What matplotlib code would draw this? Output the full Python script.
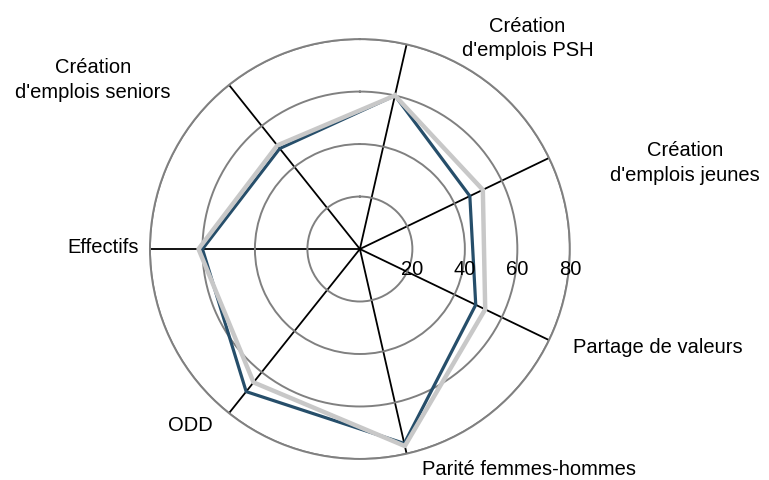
import numpy as np
import matplotlib
matplotlib.use('Agg')
import matplotlib.pyplot as plt

plt.rcParams['font.family'] = ['Liberation Sans', 'DejaVu Sans']

# categories, clockwise starting just right of the top
categories = ["Création\nd'emplois PSH", "Création\nd'emplois jeunes", "Partage de valeurs",
              "Parité femmes-hommes", "ODD", "Effectifs", "Création\nd'emplois seniors"]
serie_1 = [60, 46.5, 49, 76, 69.5, 60, 49]
serie_2 = [60, 52, 53, 77, 65, 61.5, 50.5]
r_ticks = [20, 40, 60, 80]

n = len(categories)
angles = np.pi / 14 + np.arange(n) * 2 * np.pi / n
# label offsets from the axis tip (pixels)
offsets = [(121, 7), (136, -4), (109, -6), (122, -15), (-39, -11), (-47, 3), (-136, 6)]

fig = plt.figure(figsize=(7.69, 4.81), dpi=100)
ax = fig.add_axes([0.195, 0.0437, 0.546, 0.873], polar=True)
ax.set_theta_zero_location('N')
ax.set_theta_direction(-1)
ax.set_ylim(0, 80)

a = np.append(angles, angles[0])
ax.plot(a, np.append(serie_1, serie_1[0]), color='#264e6a', lw=2.3, zorder=3)
ax.plot(a, np.append(serie_2, serie_2[0]), color='#c8c8c8', lw=3.2, zorder=4)

ax.set_xticks(angles)
ax.set_xticklabels([])
ax.set_yticks(r_ticks)
ax.set_yticklabels([])
ax.xaxis.grid(True, color='black', lw=1.3)
ax.yaxis.grid(True, color='#808080', lw=1.4)
ax.spines['polar'].set_color('#808080')
ax.spines['polar'].set_linewidth(1.4)
ax.tick_params(length=0)

for ang, lab, off in zip(angles, categories, offsets):
    ax.annotate(lab, xy=(ang, 80), xytext=off, textcoords='offset pixels',
                ha='center', va='center', fontsize=14.5, multialignment='center',
                linespacing=1.35, annotation_clip=False)

for v in r_ticks:
    ax.annotate(str(v), xy=(np.pi / 2, v), xytext=(0, -19), textcoords='offset pixels',
                ha='center', va='center', fontsize=14.5, zorder=5)

fig.savefig('out.png', dpi=100)
